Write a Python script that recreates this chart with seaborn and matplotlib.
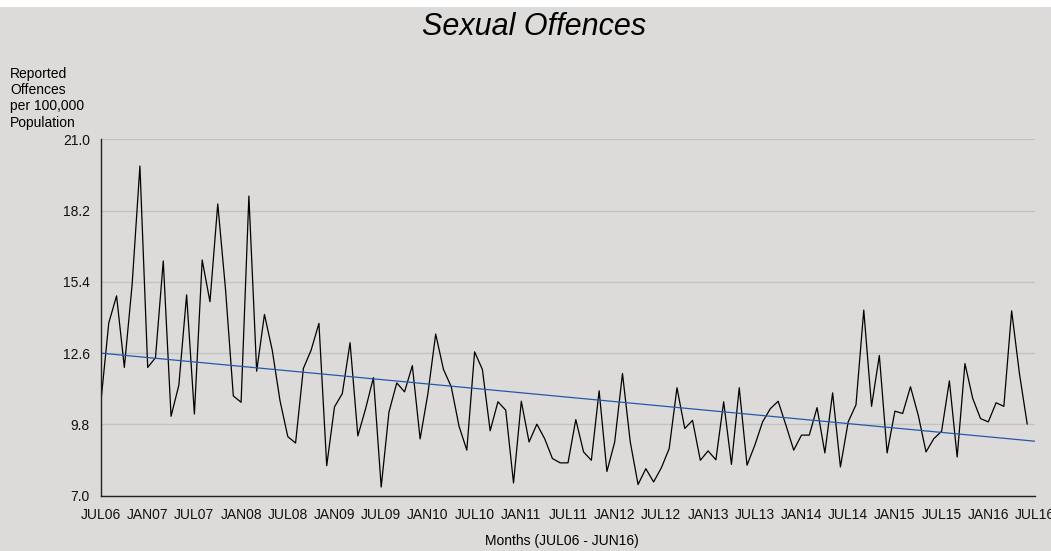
import numpy as np
import pandas as pd
import seaborn as sns
import matplotlib.pyplot as plt

# monthly reported offences per 100,000, JUL06 .. JUN16
offences = [
    10.73, 13.79, 14.85, 12.04, 15.30, 19.95, 12.04, 12.42, 16.22, 10.12, 11.34, 14.89,
    10.21, 16.26, 14.62, 18.46, 15.10, 10.92, 10.67, 18.77, 11.89, 14.12, 12.72, 10.73,
    9.32, 9.07, 12.00, 12.72, 13.77, 8.18, 10.49, 11.01, 13.01, 9.35, 10.42, 11.64,
    7.34, 10.29, 11.43, 11.08, 12.11, 9.23, 11.01, 13.35, 11.96, 11.28, 9.73, 8.79,
    12.65, 11.96, 9.55, 10.69, 10.36, 7.50, 10.71, 9.11, 9.81, 9.24, 8.46, 8.29,
    8.29, 9.99, 8.72, 8.39, 11.12, 7.95, 9.11, 11.80, 9.11, 7.44, 8.06, 7.54,
    8.10, 8.85, 11.24, 9.64, 9.96, 8.39, 8.76, 8.41, 10.69, 8.23, 11.24, 8.20,
    8.98, 9.90, 10.42, 10.71, 9.77, 8.79, 9.38, 9.38, 10.46, 8.68, 11.04, 8.13,
    9.90, 10.57, 14.29, 10.51, 12.51, 8.68, 10.32, 10.23, 11.28, 10.16, 8.72, 9.24,
    9.53, 11.51, 8.52, 12.19, 10.82, 10.03, 9.90, 10.65, 10.51, 14.26, 11.80, 9.81,
]
month_idx = list(range(len(offences)))

# linear trend, value at JUL06 and at JUL16
trend_x = [0, 120]
trend_y = [12.6, 9.14]

tick_labels = ['JUL06', 'JAN07', 'JUL07', 'JAN08', 'JUL08', 'JAN09', 'JUL09', 'JAN10',
               'JUL10', 'JAN11', 'JUL11', 'JAN12', 'JUL12', 'JAN13', 'JUL13', 'JAN14',
               'JUL14', 'JAN15', 'JUL15', 'JAN16', 'JUL16']
y_ticks = [7.0, 9.8, 12.6, 15.4, 18.2, 21.0]

bg = '#dcdbda'
sns.set_theme(style='white', rc={'axes.facecolor': bg, 'figure.facecolor': bg,
                                 'text.color': 'black'})
plt.rcParams['font.family'] = ['Liberation Sans', 'DejaVu Sans']

df = pd.DataFrame({'month': month_idx, 'rate': offences})
trend = pd.DataFrame({'month': trend_x, 'rate': trend_y})

fig = plt.figure(figsize=(10.51, 5.51), dpi=100)
# thin white strip along the top edge
fig.patches.append(plt.Rectangle((0, 1 - 7 / 551), 1, 7 / 551, transform=fig.transFigure,
                                 facecolor='white', edgecolor='none', zorder=0))
ax = fig.add_axes([101 / 1051, 1 - 495.7 / 551, 934 / 1051, 356.4 / 551])

sns.lineplot(data=df, x='month', y='rate', color='black', lw=0.9, ax=ax)
sns.lineplot(data=trend, x='month', y='rate', color='#2458a8', lw=0.9, ax=ax)

ax.set_xlim(0, 120)
ax.set_ylim(7, 21)
ax.set_xticks(range(0, 121, 6))
ax.set_xticklabels(tick_labels, fontsize=10, color='#111111')
ax.set_xticks(range(3, 121, 6), minor=True)
ax.set_yticks(y_ticks)
ax.set_yticklabels([f'{v:.1f}' for v in y_ticks], fontsize=10, color='#111111')
ax.tick_params(axis='x', which='major', direction='out', length=5, width=1, color='#222222', pad=4)
ax.tick_params(axis='x', which='minor', direction='out', length=4, width=1, color='#222222')
ax.tick_params(axis='y', direction='out', length=6, width=1, color='#222222', pad=2)
ax.yaxis.grid(True, color='#c2c2c2', lw=1)
ax.xaxis.grid(False)
ax.set_axisbelow(True)
for side in ['top', 'right']:
    ax.spines[side].set_visible(False)
for side in ['left', 'bottom']:
    ax.spines[side].set_color('#222222')
    ax.spines[side].set_linewidth(1)
ax.set_xlabel('')
ax.set_ylabel('')

fig.text(534 / 1051, 1 - 35 / 551, 'Sexual Offences', ha='center', va='baseline',
         fontsize=22, style='italic')
fig.text(10 / 1051, 1 - 67 / 551, 'Reported\nOffences\nper 100,000\nPopulation',
         ha='left', va='top', fontsize=10, linespacing=1.2)
fig.text(562 / 1051, 1 - 541 / 551, 'Months (JUL06 - JUN16)', ha='center', va='center',
         fontsize=10)

fig.savefig('out.png', dpi=100, facecolor=bg)
